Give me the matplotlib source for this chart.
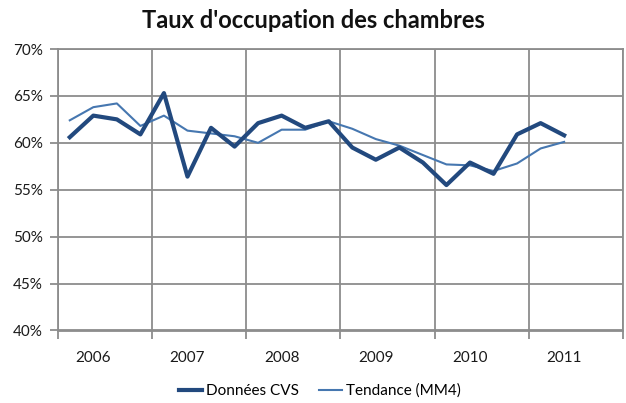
import matplotlib
matplotlib.use("Agg")
import matplotlib.pyplot as plt
from matplotlib.ticker import FixedLocator, NullFormatter

plt.rcParams['font.family'] = ['Lato', 'DejaVu Sans']

years = ["2006", "2007", "2008", "2009", "2010", "2011"]
quarters_per_year = 4
donnees_cvs = [60.6, 62.9, 62.5, 60.9, 65.3, 56.4, 61.6, 59.6, 62.1, 62.9, 61.6,
               62.3, 59.5, 58.2, 59.5, 57.9, 55.5, 57.9, 56.7, 60.9, 62.1, 60.8]
tendance_mm4 = [62.4, 63.8, 64.2, 61.8, 62.9, 61.3, 61.0, 60.7, 60.0, 61.4, 61.4,
                62.3, 61.5, 60.4, 59.7, 58.7, 57.7, 57.6, 57.0, 57.8, 59.4, 60.1]
y_ticks = [40, 45, 50, 55, 60, 65, 70]

W, H = 626, 403
fig = plt.figure(figsize=(W / 100, H / 100), dpi=100)
ax = fig.add_axes([58 / W, 1 - 330.5 / H, 565 / W, (330.5 - 49) / H])

x = list(range(len(donnees_cvs)))
dark = "#22497E"
light = "#4677B0"
ax.plot(x, donnees_cvs, color=dark, lw=3.0, label="Données CVS", zorder=3)
ax.plot(x, tendance_mm4, color=light, lw=1.5, label="Tendance (MM4)", zorder=2)

n_cat = quarters_per_year * len(years)
ax.set_xlim(-0.5, n_cat - 0.5)
ax.set_ylim(y_ticks[0], y_ticks[-1])

grid_c = "#8C8C8C"
text_c = "#1A1A1A"
# year separators as major ticks, year labels under the second quarter of each year
bounds = [i * quarters_per_year - 0.5 for i in range(len(years) + 1)]
ax.xaxis.set_major_locator(FixedLocator(bounds))
ax.xaxis.set_major_formatter(NullFormatter())
label_pos = [i * quarters_per_year + 1 for i in range(len(years))]
ax.xaxis.set_minor_locator(FixedLocator(label_pos))
ax.set_xticklabels(years, minor=True)
ax.tick_params(axis="x", which="minor", length=0, pad=15, labelsize=11, labelcolor=text_c)
ax.tick_params(axis="x", which="major", length=6, width=1.3, color=grid_c)

ax.set_yticks(y_ticks)
ax.set_yticklabels([f"{v}%" for v in y_ticks])
ax.tick_params(axis="y", length=6, width=1.3, color=grid_c, labelsize=11, labelcolor=text_c, pad=5)

ax.grid(True, which="major", color=grid_c, lw=1.3)
ax.set_axisbelow(True)
for s in ax.spines.values():
    s.set_color(grid_c)
    s.set_linewidth(1.3)

fig.text(0.5, 1 - 20 / H, "Taux d'occupation des chambres", ha="center", va="center",
         fontsize=17, fontweight="bold", color="#111111")

fig.legend(loc="center", bbox_to_anchor=(320 / W, 1 - 391 / H), ncol=2,
           frameon=False, fontsize=11, handlelength=1.5, columnspacing=1.3,
           handletextpad=0.3, borderpad=0)

fig.savefig("out.png", dpi=100)
